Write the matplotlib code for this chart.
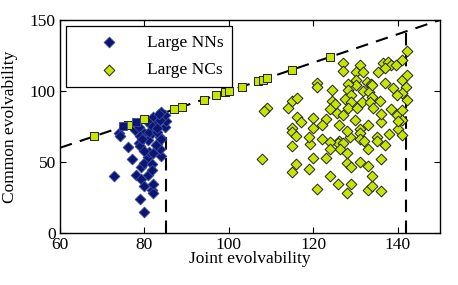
import matplotlib
matplotlib.use("Agg")
import matplotlib.pyplot as plt

plt.rcParams['font.family'] = ['Liberation Serif', 'DejaVu Serif']

# Large NNs (diamonds): joint, common evolvability
nn_joint = [74.0, 74.2, 76.0, 77.0, 72.9, 78.9, 79.9, 78.0, 79.1, 80.0, 80.9, 81.9, 82.0, 82.1,
            79.2, 80.0, 80.9, 81.9, 81.9, 83.9, 78.8, 79.0, 80.9, 81.9, 82.9, 83.8, 83.8, 84.9,
            85.0, 84.9, 82.0, 82.9, 83.8, 77.8, 78.8, 79.9, 81.0, 78.9, 83.0, 84.0, 83.5, 82.8,
            81.0, 80.0, 82.0, 84.0, 79.5, 81.5, 80.5, 83.0]
nn_common = [70.2, 68.0, 60.3, 51.9, 40.1, 23.7, 15.0, 40.8, 37.8, 33.3, 40.8, 30.3, 28.5, 34.3,
             46.3, 49.5, 53.3, 48.6, 44.4, 54.2, 63.6, 61.5, 65.5, 70.6, 62.7, 67.8, 59.0, 74.9,
             79.0, 83.1, 81.9, 77.2, 79.5, 72.5, 74.9, 70.6, 71.0, 68.0, 71.0, 85.0, 84.0, 62.0,
             57.0, 58.0, 56.0, 66.0, 66.0, 76.0, 79.0, 74.0]

# Large NCs (diamonds)
nc_joint = [142.1, 140.9, 127.1, 127.1, 131.0, 130.1, 131.8, 130.1, 130.1, 128.3, 132.6, 133.6,
            135.2, 136.6, 137.8, 138.5, 139.5, 137.0, 137.0, 138.8, 140.9, 141.9, 142.1, 140.9,
            142.1, 139.7, 124.4, 124.4, 128.3, 129.0, 131.8, 133.2, 134.0, 133.8, 127.5, 129.0,
            131.6, 133.5, 135.9, 128.3, 130.3, 134.1, 125.5, 127.0, 129.8, 125.2, 138.5, 139.7,
            140.9, 140.9, 131.0, 140.0, 140.1,
            120.9, 120.9, 109.0, 108.2, 114.9, 116.1, 114.1, 116.1, 120.0, 123.0, 124.0, 114.9,
            120.0,
            131.1, 131.1, 131.9, 128.8, 135.0, 135.0, 137.0, 133.0, 126.0, 125.9, 127.1, 126.2,
            127.9, 127.9, 129.0, 131.0, 133.0, 136.0, 124.0, 125.9, 129.0, 127.9, 133.0, 134.0,
            134.0, 136.0, 107.9, 114.9, 115.9, 114.9, 119.1, 122.0, 124.0, 124.0, 123.0, 120.0,
            119.0, 115.9, 114.9, 120.9, 119.0, 117.0, 122.0, 126.0, 128.0, 133.0, 136.0, 138.0,
            141.0, 136.0]
nc_common = [128.3, 122.0, 120.0, 114.2, 118.3, 113.6, 113.6, 108.0, 104.0, 104.9, 106.6, 105.0,
             113.6, 119.5, 120.5, 118.0, 118.6, 116.0, 105.9, 101.9, 107.7, 103.0, 111.3, 98.3,
             93.7, 97.0, 100.7, 93.0, 100.7, 97.0, 100.0, 99.5, 96.0, 104.0, 94.1, 92.5,
             92.5, 92.5, 93.2, 87.8, 87.8, 87.8, 84.3, 83.0, 79.6, 91.0, 87.1, 83.0,
             86.6, 79.6, 73.5, 73.5, 79.0,
             105.9, 103.0, 87.8, 85.9, 93.0, 95.3, 87.8, 81.9, 80.8, 80.0, 87.0, 73.7,
             73.7,
             70.2, 66.3, 65.0, 67.4, 67.8, 65.0, 62.0, 58.9, 65.0, 63.2, 63.2, 59.0,
             56.1, 49.5, 46.2, 50.2, 47.4, 51.9, 40.1, 34.3, 34.3, 28.4, 30.3, 33.1,
             40.1, 29.6, 51.9, 71.3, 68.3, 61.3, 62.5, 66.2, 64.3, 58.9, 53.0, 53.0,
             44.8, 48.4, 43.2, 31.0, 67.8, 78.0, 76.0, 76.0, 72.0, 76.0, 78.0, 70.0,
             69.0, 84.0]

# Points on the diagonal (common == joint), squares
sq_nc = [68, 76, 80, 87, 89, 94, 97, 99, 100, 103, 107, 108, 109, 115, 124]
sq_nn = [75, 78]

# Threshold lines
nn_max = 85
nc_max = 142

navy = '#0b1670'
lime = '#c6e600'
fs = 12.5

fig = plt.figure(figsize=(4.58, 2.85), dpi=100)
ax = fig.add_axes([60/458, 52/285, 380/458, 213/285])

dash = (6, 4)
ax.plot([60, 150], [60, 150], color='black', lw=1.5, linestyle=(0, dash), zorder=1)
ax.plot([nn_max, nn_max], [0, nn_max], color='black', lw=1.5, linestyle=(0, dash), zorder=1)
ax.plot([nc_max, nc_max], [0, nc_max], color='black', lw=1.5, linestyle=(0, dash), zorder=1)

ax.scatter(nn_joint, nn_common, marker='D', s=30, facecolor=navy, edgecolor='#3a4aa0',
           linewidths=0.6, zorder=3, label='Large NNs')
ax.scatter(nc_joint, nc_common, marker='D', s=30, facecolor=lime, edgecolor='#222222',
           linewidths=0.7, zorder=3, label='Large NCs')
ax.scatter(sq_nc, sq_nc, marker='s', s=28, facecolor=lime, edgecolor='#222222',
           linewidths=0.7, zorder=4)
ax.scatter(sq_nn, sq_nn, marker='s', s=28, facecolor=navy, edgecolor='#3a4aa0',
           linewidths=0.6, zorder=4)

ax.set_xlim(60, 150)
ax.set_ylim(0, 150)
ax.set_xticks([60, 80, 100, 120, 140])
ax.set_yticks([0, 50, 100, 150])
ax.tick_params(direction='in', top=True, right=True, length=4, width=0.8,
               labelsize=fs, pad=3)
for sp in ax.spines.values():
    sp.set_linewidth(1.0)

ax.set_xlabel('Joint evolvability', fontsize=fs)
ax.xaxis.set_label_coords(0.5, -0.085)
ax.set_ylabel('Common evolvability', fontsize=fs)
ax.yaxis.set_label_coords(-0.11, 0.5)

leg = ax.legend(loc='upper left', bbox_to_anchor=(6/380, 1 - 6/213), borderaxespad=0,
                fontsize=fs, handlelength=4.0, handletextpad=0.15, labelspacing=0.65,
                borderpad=0.5, fancybox=False, framealpha=1, edgecolor='black',
                scatterpoints=1)
leg.get_frame().set_linewidth(0.9)

fig.savefig('out.png', dpi=100)
